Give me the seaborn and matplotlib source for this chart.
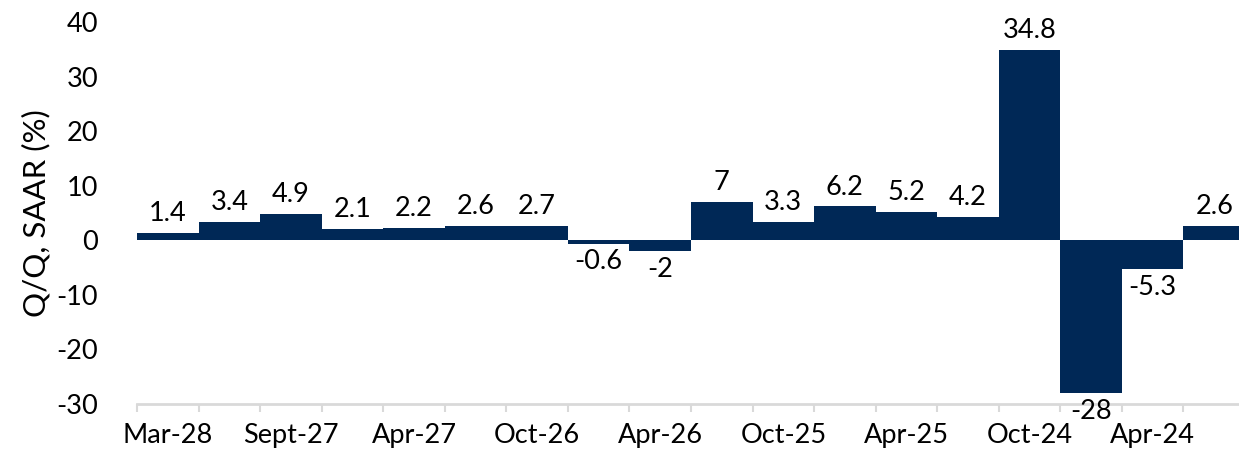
import numpy as np
import pandas as pd
import seaborn as sns
import matplotlib.pyplot as plt
from matplotlib.ticker import FixedLocator

periods = ["Mar-28", "Dec-27", "Sept-27", "Jun-27", "Apr-27", "Jan-27",
           "Oct-26", "Jul-26", "Apr-26", "Jan-26", "Oct-25", "Jul-25",
           "Apr-25", "Jan-25", "Oct-24", "Jul-24", "Apr-24", "Jan-24"]
values = [1.4, 3.4, 4.9, 2.1, 2.2, 2.6, 2.7, -0.6, -2, 7,
          3.3, 6.2, 5.2, 4.2, 34.8, -28, -5.3, 2.6]
shown_labels = ["Mar-28", "Sept-27", "Apr-27", "Oct-26", "Apr-26",
                "Oct-25", "Apr-25", "Oct-24", "Apr-24"]
yticks = [-30, -20, -10, 0, 10, 20, 30, 40]

NAVY = "#002856"
FS = 19.5


def fmt(v):
    return f"{v:g}"


def main():
    sns.set_style("white")
    plt.rcParams['font.family'] = ['Lato', 'DejaVu Sans']
    plt.rcParams['text.color'] = 'black'
    plt.rcParams['xtick.color'] = 'black'
    plt.rcParams['ytick.color'] = 'black'
    plt.rcParams['axes.labelcolor'] = 'black'

    df = pd.DataFrame({"period": periods, "value": values})

    fig = plt.figure(figsize=(12.39, 4.54), dpi=100)
    ax = fig.add_axes([137 / 1239, 50 / 454, 1108 / 1239, 382 / 454])

    sns.barplot(data=df, x="period", y="value", color=NAVY, width=1.0,
                saturation=1, linewidth=0, ax=ax)

    ax.set_xlim(-0.5, len(values) - 0.5)
    ax.set_ylim(-30, 40)
    ax.set_yticks(yticks)
    ax.set_yticklabels([str(t) for t in yticks])

    # labels every second category, tick marks between categories
    pos = [periods.index(p) for p in shown_labels]
    ax.xaxis.set_major_locator(FixedLocator(pos))
    ax.set_xticklabels(shown_labels)
    ax.xaxis.set_minor_locator(FixedLocator(np.arange(-0.5, len(values), 1.0)))
    ax.tick_params(axis="x", which="major", length=0, pad=14, labelsize=FS)
    ax.tick_params(axis="x", which="minor", length=6, width=1.5,
                   color="#D9D9D9", direction="out", bottom=True)
    ax.tick_params(axis="y", length=0, pad=28, labelsize=FS)

    for s in ["top", "right", "left"]:
        ax.spines[s].set_visible(False)
    ax.spines["bottom"].set_color("#D9D9D9")
    ax.spines["bottom"].set_linewidth(2)

    ax.set_xlabel("")
    ax.set_ylabel("Q/Q, SAAR (%)", fontsize=22.5, labelpad=4)

    for i, v in enumerate(values):
        if v >= 0:
            ax.annotate(fmt(v), (i, v), xytext=(0, 5), textcoords="offset points",
                        ha="center", va="bottom", fontsize=FS)
        else:
            ax.annotate(fmt(v), (i, v), xytext=(0, -4), textcoords="offset points",
                        ha="center", va="top", fontsize=FS)

    fig.savefig("out.png", dpi=100)


if __name__ == "__main__":
    main()
